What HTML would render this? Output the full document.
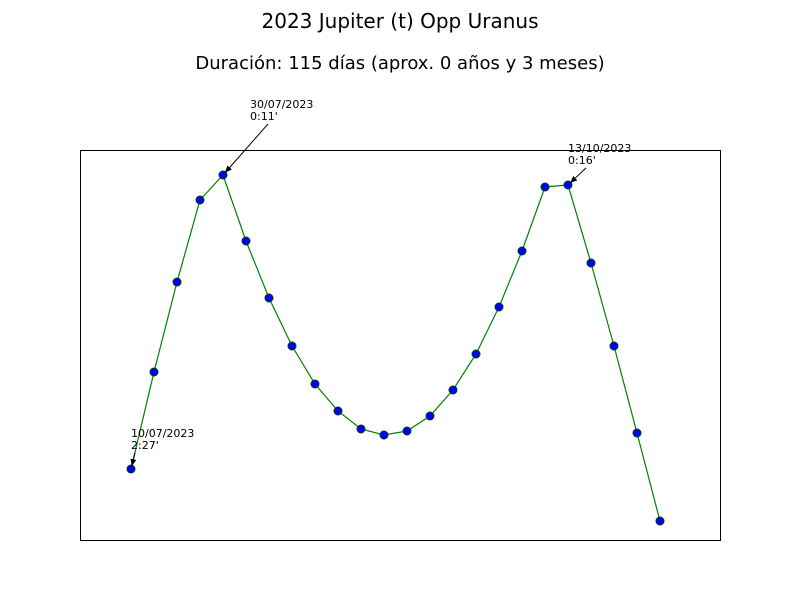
<!DOCTYPE html>
<html><head><meta charset="utf-8"><style>
body{margin:0;background:#fff;font-family:"Liberation Sans","DejaVu Sans",sans-serif;}
</style></head><body>
<svg id="chart" width="800" height="600" xmlns="http://www.w3.org/2000/svg">
<rect width="800" height="600" fill="#fff"/>
<text x="400" y="28" text-anchor="middle" font-size="20" font-family="DejaVu Sans, sans-serif">2023 Jupiter (t) Opp Uranus</text>
<text x="400" y="69" text-anchor="middle" font-size="18" font-family="DejaVu Sans, sans-serif">Duración: 115 días (aprox. 0 años y 3 meses)</text>
<rect x="80.5" y="150.5" width="640" height="390" fill="none" stroke="#000"/>
<g id="marks"></g>
<g id="ann" font-size="11" font-family="DejaVu Sans, sans-serif"></g>
</svg>
<script>
const values=[71,168,258,340,365,299,242,194,156,129,111,105,109,124,150,186,233,289,353,355,277,194,107,19];
const annIdx=[0,4,19];
const annDate=["10/07/2023","30/07/2023","13/10/2023"];
const annTime=["2:27'","0:11'","0:16'"];
const annOff=[[0,-32],[27,-67],[0,-33]];
const X=i=>131+i*23;
const Y=v=>540-v;
const NS="http://www.w3.org/2000/svg";
const g=document.getElementById('marks');
const line=document.createElementNS(NS,'polyline');
line.setAttribute('points',values.map((v,i)=>X(i)+','+Y(v)).join(' '));
line.setAttribute('fill','none');line.setAttribute('stroke','green');line.setAttribute('stroke-width','1.2');


g.appendChild(line);
values.forEach((v,i)=>{const c=document.createElementNS(NS,'circle');
c.setAttribute('cx',X(i));c.setAttribute('cy',Y(v));c.setAttribute('r','4');
c.setAttribute('fill','#0000ff');c.setAttribute('stroke','#004000');c.setAttribute('stroke-width','1');


g.appendChild(c);});
const a=document.getElementById('ann');
annIdx.forEach((idx,k)=>{const px=X(idx),py=Y(values[idx]);const tx=px+annOff[k][0],ty=py+annOff[k][1];
const t=document.createElementNS(NS,'text');t.setAttribute('x',tx);t.setAttribute('y',ty);t.textContent=annDate[k];


a.appendChild(t);
const t2=document.createElementNS(NS,'text');t2.setAttribute('x',tx);t2.setAttribute('y',ty+12);t2.textContent=annTime[k];


a.appendChild(t2);
const sx=tx+(k==0?4:18),sy=ty+16;
const dx=px-sx,dy=py-sy,L=Math.hypot(dx,dy),ux=dx/L,uy=dy/L;
const ex=px-ux*3,ey=py-uy*3;
const l=document.createElementNS(NS,'line');l.setAttribute('x1',sx);l.setAttribute('y1',sy);l.setAttribute('x2',ex);l.setAttribute('y2',ey);l.setAttribute('stroke','#000');


a.appendChild(l);
const h=document.createElementNS(NS,'polygon');
const bx=ex-ux*7,by=ey-uy*7;
h.setAttribute('points',`${ex},${ey} ${bx-uy*3},${by+ux*3} ${bx+uy*3},${by-ux*3}`);
h.setAttribute('fill','#000');


a.appendChild(h);});
</script>
</body></html>
